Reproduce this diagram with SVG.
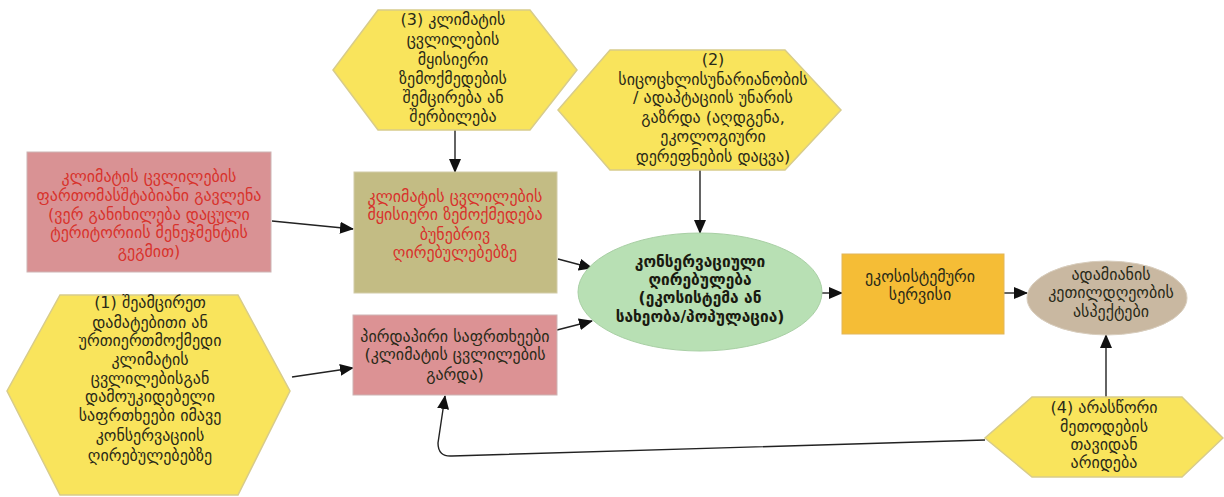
<svg xmlns="http://www.w3.org/2000/svg" width="1224" height="497" viewBox="0 0 1224 497">
<style>
text{font-family:"DejaVu Sans","Liberation Sans",sans-serif;font-size:16px;text-anchor:middle}
.hex{fill:#f9e45c;stroke:#d8cc8a;stroke-width:1.5}
.dk{fill:#2a2a18}
.rd{fill:#d8322c}
.b{font-weight:bold;fill:#1a1a10;font-size:15.5px}
.con{fill:none;stroke:#222;stroke-width:1.4;marker-end:url(#ah)}
</style>
<defs>
<marker id="ah" markerUnits="userSpaceOnUse" markerWidth="14" markerHeight="12" refX="13" refY="6" orient="auto">
<path d="M0,0 L14,6 L0,12 z" fill="#111"/>
</marker>
</defs>
<rect width="1224" height="497" fill="#fff"/>
<g id="connectors">
<line class="con" x1="272" y1="221" x2="353" y2="229"/>
<line class="con" x1="455" y1="130" x2="455" y2="172"/>
<line class="con" x1="700" y1="170" x2="700" y2="233"/>
<line class="con" x1="558" y1="259" x2="592" y2="268"/>
<line class="con" x1="557" y1="330" x2="592" y2="321"/>
<line class="con" x1="292" y1="377" x2="353" y2="368"/>
<line class="con" x1="822" y1="293" x2="842" y2="293"/>
<line class="con" x1="1004" y1="293" x2="1027" y2="293"/>
<line class="con" x1="1106" y1="397" x2="1106" y2="335"/>
<path class="con" d="M985,440 L452,456 Q438,457 438,443 L445,396"/>
</g>
<g id="hex3">
<polygon class="hex" points="378,10 530,10 577,70 530,130 378,130 333,70"/>
<text class="dk"><tspan x="453" y="25">(3) კლიმატის</tspan><tspan x="453" y="45">ცვლილების</tspan><tspan x="453" y="65">მყისიერი</tspan><tspan x="453" y="84">ზემოქმედების</tspan><tspan x="453" y="103">შემცირება ან</tspan><tspan x="453" y="122">შერბილება</tspan></text>
</g>
<g id="hex2">
<polygon class="hex" points="610,50 785,50 841,110 785,170 610,170 558,110"/>
<text class="dk"><tspan x="713" y="65">(2)</tspan><tspan x="713" y="85">სიცოცხლისუნარიანობის</tspan><tspan x="713" y="103">/ ადაპტაციის უნარის</tspan><tspan x="713" y="123">გაზრდა (აღდგენა,</tspan><tspan x="713" y="142">ეკოლოგიური</tspan><tspan x="713" y="162">დერეფნების დაცვა)</tspan></text>
</g>
<g id="broad">
<rect x="27" y="152" width="244" height="120" fill="#d99294" stroke="#cdb4b4" stroke-width="1"/>
<text class="rd"><tspan x="149" y="182">კლიმატის ცვლილების</tspan><tspan x="149" y="201">ფართომასშტაბიანი გავლენა</tspan><tspan x="149" y="220">(ვერ განიხილება დაცული</tspan><tspan x="149" y="238">ტერიტორიის მენეჯმენტის</tspan><tspan x="149" y="257">გეგმით)</tspan></text>
</g>
<g id="immediate">
<rect x="354" y="172" width="203" height="121" fill="#c3bc84" stroke="#d2cca8" stroke-width="1"/>
<text class="rd"><tspan x="455" y="202">კლიმატის ცვლილების</tspan><tspan x="455" y="220">მყისიერი ზემოქმედება</tspan><tspan x="455" y="240">ბუნებრივ</tspan><tspan x="455" y="258">ღირებულებებზე</tspan></text>
</g>
<g id="conservation">
<ellipse cx="700" cy="292" rx="122" ry="59" fill="#b8e0b4" stroke="#a8cfa4" stroke-width="1"/>
<text class="b"><tspan x="700" y="267">კონსერვაციული</tspan><tspan x="700" y="285">ღირებულება</tspan><tspan x="700" y="303">(ეკოსისტემა ან</tspan><tspan x="700" y="322">სახეობა/პოპულაცია)</tspan></text>
</g>
<g id="ecoservice">
<rect x="842" y="254" width="162" height="80" fill="#f5bd36" stroke="#e2b65a" stroke-width="1"/>
<text class="dk"><tspan x="920" y="282">ეკოსისტემური</tspan><tspan x="920" y="300">სერვისი</tspan></text>
</g>
<g id="wellbeing">
<ellipse cx="1107" cy="298" rx="80" ry="37" fill="#c9b8a1" stroke="#d8cdbd" stroke-width="1"/>
<text class="dk"><tspan x="1111" y="280">ადამიანის</tspan><tspan x="1111" y="298">კეთილდღეობის</tspan><tspan x="1111" y="317">ასპექტები</tspan></text>
</g>
<g id="hex1">
<polygon class="hex" points="60,295 238,295 290,391 238,495 60,495 7,391"/>
<text class="dk"><tspan x="150" y="308">(1) შეამცირეთ</tspan><tspan x="150" y="328">დამატებითი ან</tspan><tspan x="150" y="346">ურთიერთმოქმედი</tspan><tspan x="150" y="365">კლიმატის</tspan><tspan x="150" y="384">ცვლილებისგან</tspan><tspan x="150" y="402">დამოუკიდებელი</tspan><tspan x="150" y="421">საფრთხეები იმავე</tspan><tspan x="150" y="441">კონსერვაციის</tspan><tspan x="150" y="461">ღირებულებებზე</tspan></text>
</g>
<g id="direct">
<rect x="353" y="315" width="204" height="80" fill="#dc9294" stroke="#cdb4b4" stroke-width="1"/>
<text class="dk"><tspan x="455" y="342">პირდაპირი საფრთხეები</tspan><tspan x="455" y="360">(კლიმატის ცვლილების</tspan><tspan x="455" y="380">გარდა)</tspan></text>
</g>
<g id="hex4">
<polygon class="hex" points="1032,397 1182,397 1223,438 1182,477 1032,477 985,438"/>
<text class="dk"><tspan x="1104" y="413">(4) არასწორი</tspan><tspan x="1104" y="432">მეთოდების</tspan><tspan x="1104" y="450">თავიდან</tspan><tspan x="1104" y="468">არიდება</tspan></text>
</g>
</svg>
